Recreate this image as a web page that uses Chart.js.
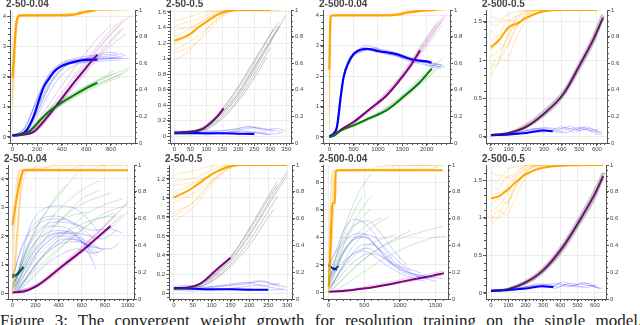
<!DOCTYPE html>
<html>
<head>
<meta charset="utf-8">
<script src="https://cdn.jsdelivr.net/npm/chart.js@4.4.1/dist/chart.umd.min.js"></script>
<style>
  body { margin: 0; background: #fff; width: 640px; height: 325px; overflow: hidden; position: relative; }
  canvas { position: absolute; }
  .ttl { position: absolute; font: bold 10px "Liberation Sans", Arial, sans-serif; color: #444; white-space: nowrap; }
  .cap { position: absolute; left: 0; top: 311px; font: 17px "Liberation Serif", serif; color: #222; white-space: nowrap; word-spacing: 6px; }
</style>
</head>
<body>
<div class="cap">Figure 3: The convergent weight growth for resolution training on the single model. The</div>
<script>
// ---- tick labels
const accTicks = [0, 0.2, 0.4, 0.6, 0.8, 1];
const p1XTicks = [0, 200, 400, 600, 800], p1YTicks = [0, 1, 2, 3, 4];
const p2XTicks = [0, 50, 100, 150, 200, 250, 300, 350], p2YTicks = [0, 0.2, 0.4, 0.6, 0.8, 1, 1.2, 1.4, 1.6];
const p3XTicks = [0, 500, 1000, 1500, 2000], p3YTicks = [0, 1, 2, 3, 4];
const p4XTicks = [0, 100, 200, 300, 400, 500, 600], p4YTicks = [0, 0.5, 1, 1.5];
const p5XTicks = [0, 200, 400, 600, 800, 1000], p5YTicks = [0, 1, 2, 3, 4];
const p6XTicks = [0, 50, 100, 150, 200, 250, 300], p6YTicks = [0, 0.2, 0.4, 0.6, 0.8, 1, 1.2];
const p7XTicks = [0, 500, 1000, 1500], p7YTicks = [0, 2, 4, 6, 8];
const p8XTicks = [0, 100, 200, 300, 400, 500, 600], p8YTicks = [0, 0.5, 1, 1.5];

// ---- panel 1: 2-50-0.04 (x = steps, left = weight norm, right = accuracy)
const p1OrangeMean = [0,0.49, 10,0.62, 20,0.78, 30,0.9, 45,0.95, 60,0.96, 200,0.96, 400,0.96, 500,0.965, 560,0.98, 620,0.99, 680,1.0];
const p1OrangeRuns = [
  [0,0.26, 20,0.6, 40,0.9, 60,0.96, 400,0.96, 550,0.97, 650,1.0, 950,1.0],
  [0,0.4, 25,0.8, 50,0.95, 300,0.96, 500,0.98, 600,1.0, 900,1.0],
  [0,0.5, 15,0.7, 35,0.93, 60,0.96, 450,0.96, 600,0.985, 700,1.0, 850,1.0],
  [0,0.3, 30,0.85, 60,0.955, 500,0.96, 650,0.99, 750,1.0, 930,1.0],
  [0,0.45, 20,0.75, 45,0.95, 70,0.965, 550,0.97, 620,1.0, 800,1.0]
];
const p1BlueMean = [0,0.05, 60,0.07, 116,0.23, 171,0.67, 210,1.15, 253,1.65, 300,1.95, 335,2.15, 380,2.3, 444,2.42, 520,2.5, 608,2.55, 690,2.56];
const p1BlueRuns = [
  [0,0.05, 100,0.15, 200,0.8, 300,1.7, 400,2.25, 500,2.5, 600,2.6, 700,2.65, 850,2.7],
  [0,0.05, 100,0.3, 200,1.2, 300,2.0, 400,2.4, 500,2.55, 600,2.6, 750,2.62, 900,2.6],
  [0,0.05, 120,0.2, 220,1.0, 320,1.8, 420,2.3, 550,2.55, 700,2.7, 900,2.75],
  [0,0.05, 90,0.25, 180,1.05, 280,1.95, 380,2.4, 500,2.6, 650,2.7, 800,2.8, 850,2.78],
  [0,0.05, 130,0.3, 230,1.2, 330,1.95, 430,2.35, 550,2.45, 700,2.5, 880,2.55],
  [0,0.05, 110,0.35, 210,1.4, 310,2.15, 410,2.45, 520,2.55, 680,2.6, 950,2.6],
  [0,0.05, 140,0.25, 240,1.0, 340,1.75, 440,2.2, 560,2.45, 700,2.55, 860,2.62],
  [0,0.05, 100,0.2, 200,0.95, 300,1.85, 400,2.35, 520,2.5, 640,2.55, 780,2.6, 920,2.7]
];
const p1GreenMean = [0,0.05, 60,0.07, 143,0.2, 225,0.56, 300,0.85, 390,1.11, 500,1.38, 608,1.63, 690,1.8];
const p1GreenRuns = [
  [0,0.05, 150,0.25, 300,0.9, 450,1.3, 600,1.65, 750,1.95, 830,2.1],
  [0,0.05, 150,0.2, 300,0.85, 450,1.25, 600,1.6, 750,1.85, 900,2.1],
  [0,0.05, 150,0.22, 300,0.8, 450,1.2, 600,1.55, 780,1.9, 940,2.2],
  [0,0.05, 150,0.28, 300,0.95, 450,1.35, 600,1.7, 720,1.95, 820,2.2],
  [0,0.05, 150,0.18, 300,0.78, 450,1.18, 600,1.5, 760,1.8, 880,2.0],
  [0,0.05, 150,0.25, 300,0.88, 450,1.32, 600,1.68, 800,2.05, 960,2.3]
];
const p1PurpleMean = [0,0.05, 80,0.07, 171,0.17, 280,0.65, 390,1.22, 480,1.7, 581,2.2, 650,2.55, 690,2.72];
const p1PurpleRuns = [
  [0,0.05, 150,0.15, 300,0.8, 450,1.65, 600,2.45, 750,3.2, 950,4.0],
  [0,0.05, 150,0.12, 300,0.7, 450,1.5, 600,2.3, 750,3.0, 880,3.55],
  [0,0.05, 150,0.2, 300,0.9, 450,1.75, 600,2.55, 750,3.3, 850,3.75],
  [0,0.05, 150,0.1, 300,0.65, 450,1.4, 600,2.15, 750,2.85, 920,3.4],
  [0,0.05, 120,0.15, 250,0.8, 400,1.7, 550,2.55, 700,3.3, 800,3.7],
  [0,0.05, 180,0.15, 330,0.85, 480,1.6, 630,2.35, 780,3.05, 900,3.6],
  [0,0.05, 150,0.18, 300,0.75, 450,1.55, 600,2.4, 750,3.15, 900,3.9]
];

// ---- panel 2: 2-50-0.5
const p2OrangeMean = [0,0.77, 25,0.79, 50,0.82, 75,0.87, 100,0.91, 125,0.95, 150,0.98, 175,0.995, 200,1.0, 300,1.0];
const p2OrangeRuns = [
  [0,0.62, 50,0.7, 100,0.85, 150,0.97, 200,1.0, 330,1.0],
  [0,0.92, 50,0.95, 100,0.99, 140,1.0, 300,1.0],
  [0,0.75, 40,0.8, 90,0.9, 140,0.98, 180,1.0, 350,1.0],
  [0,0.85, 60,0.88, 110,0.95, 160,1.0, 310,1.0],
  [0,0.68, 50,0.72, 100,0.82, 150,0.95, 200,1.0, 325,1.0],
  [0,0.88, 30,0.9, 80,0.94, 130,0.99, 170,1.0, 300,1.0],
  [0,0.8, 50,0.86, 100,0.93, 150,0.99, 300,1.0],
  [0,0.7, 60,0.78, 120,0.9, 170,0.99, 210,1.0, 280,1.0]
];
const p2GreyRuns = [
  [0,0.04, 50,0.05, 100,0.12, 150,0.3, 200,0.55, 250,0.88, 300,1.22, 350,1.56],
  [0,0.04, 50,0.06, 100,0.14, 150,0.34, 200,0.62, 250,0.95, 300,1.3, 325,1.46],
  [0,0.04, 50,0.05, 100,0.1, 150,0.25, 200,0.48, 250,0.8, 300,1.14],
  [0,0.04, 50,0.05, 100,0.12, 150,0.31, 200,0.57, 250,0.9, 300,1.24, 325,1.4],
  [0,0.04, 50,0.05, 100,0.09, 150,0.23, 200,0.45, 250,0.75, 290,1.02],
  [0,0.04, 50,0.06, 100,0.15, 150,0.36, 200,0.64, 250,0.98, 310,1.38],
  [0,0.04, 50,0.05, 100,0.11, 150,0.28, 200,0.52, 250,0.85, 300,1.2, 330,1.42]
];
const p2PurpleMean = [0,0.05, 30,0.055, 60,0.065, 90,0.1, 112,0.17, 135,0.26, 154,0.36];
const p2BlueMean = [0,0.04, 50,0.045, 100,0.04, 150,0.04, 200,0.035, 250,0.03];
const p2BlueRuns = [
  [0,0.06, 40,0.07, 80,0.05, 120,0.06, 160,0.08, 200,0.1, 240,0.12, 280,0.08, 320,0.1, 350,0.07],
  [0,0.03, 50,0.02, 100,0.04, 150,0.03, 200,0.06, 250,0.05, 300,0.03, 330,0.04],
  [0,0.07, 40,0.06, 90,0.08, 140,0.07, 190,0.09, 230,0.13, 270,0.1, 310,0.06],
  [0,0.05, 60,0.04, 110,0.03, 160,0.05, 210,0.07, 260,0.04, 300,0.02],
  [0,0.04, 50,0.05, 100,0.06, 150,0.05, 200,0.08, 250,0.11, 300,0.09, 340,0.05],
  [0,0.02, 50,0.03, 100,0.02, 150,0.04, 200,0.03, 250,0.06, 290,0.04]
];

// ---- panel 3: 2-500-0.04
const p3OrangeMean = [0,0.55, 15,0.85, 30,0.95, 60,0.96, 1200,0.96, 1400,0.965, 1600,0.98, 1800,0.99, 2000,0.997, 2200,1.0];
const p3OrangeRuns = [
  [0,0.1, 10,0.5, 25,0.9, 40,0.96, 1300,0.96, 1500,0.975, 1800,0.99, 2400,1.0],
  [0,0.3, 15,0.8, 30,0.955, 1200,0.96, 1450,0.98, 1700,1.0, 2350,1.0],
  [0,0.45, 12,0.85, 35,0.96, 1350,0.962, 1600,0.985, 2000,1.0, 2300,1.0],
  [0,0.2, 20,0.7, 50,0.96, 1400,0.965, 1650,0.99, 2100,1.0, 2400,1.0]
];
const p3BlueMean = [0,0.02, 80,0.1, 157,0.33, 225,1.2, 293,1.97, 396,2.46, 498,2.73, 600,2.85, 773,2.9, 900,2.87, 1000,2.83, 1200,2.78, 1400,2.72, 1600,2.6, 1800,2.52, 2000,2.49, 2100,2.44];
const p3BlueRuns = [
  [0,0.02, 150,0.3, 250,1.6, 400,2.5, 600,2.9, 800,3.0, 1000,2.9, 1200,2.85, 1400,2.75, 1600,2.65, 1800,2.55, 2000,2.5, 2200,2.4, 2350,2.35],
  [0,0.02, 170,0.35, 270,1.7, 420,2.45, 600,2.8, 750,2.85, 950,2.95, 1150,2.75, 1350,2.68, 1550,2.55, 1750,2.45, 1950,2.38, 2150,2.3, 2300,2.25],
  [0,0.02, 160,0.4, 260,1.8, 400,2.55, 550,2.78, 700,2.95, 900,2.82, 1100,2.8, 1300,2.76, 1500,2.62, 1700,2.58, 1900,2.47, 2100,2.42, 2300,2.38],
  [0,0.02, 150,0.3, 240,1.5, 380,2.4, 520,2.7, 680,2.82, 850,2.92, 1050,2.86, 1250,2.7, 1450,2.7, 1650,2.55, 1850,2.5, 2050,2.35, 2250,2.4],
  [600,2.75, 800,2.88, 1000,2.78, 1200,2.82, 1400,2.65, 1600,2.58, 1800,2.45, 2000,2.45, 2200,2.33, 2380,2.3],
  [500,2.65, 700,2.92, 900,2.88, 1100,2.75, 1300,2.72, 1500,2.6, 1700,2.52, 1900,2.52, 2100,2.36, 2300,2.32]
];
const p3GreenMean = [0,0, 100,0.05, 250,0.22, 498,0.38, 800,0.6, 1182,0.88, 1523,1.32, 1866,1.81, 2105,2.25];
const p3GreenRuns = [
  [0,0.02, 500,0.4, 1000,0.78, 1500,1.35, 2000,2.1, 2340,2.62],
  [0,0.02, 500,0.36, 1000,0.72, 1500,1.25, 2000,1.95, 2250,2.35],
  [0,0.02, 500,0.42, 1000,0.8, 1500,1.38, 2000,2.15, 2200,2.45],
  [0,0.02, 500,0.35, 1000,0.7, 1500,1.22, 2000,1.9, 2300,2.38],
  [0,0.02, 500,0.4, 1000,0.76, 1500,1.3, 1900,1.9, 2150,2.3]
];
const p3PurpleMean = [0,0, 100,0.05, 250,0.25, 498,0.49, 800,0.88, 1182,1.37, 1523,2.03, 1700,2.42, 1866,2.85];
const p3PurpleRuns = [
  [0,0.02, 500,0.5, 1000,1.15, 1500,2.0, 1900,2.95, 2350,3.98],
  [0,0.02, 500,0.47, 1000,1.1, 1500,1.95, 1900,2.85, 2300,3.8],
  [0,0.02, 500,0.52, 1000,1.2, 1500,2.1, 1900,3.05, 2250,3.85],
  [0,0.02, 500,0.45, 1000,1.05, 1500,1.9, 1900,2.78, 2320,3.7],
  [0,0.02, 500,0.5, 1000,1.18, 1500,2.05, 1900,3.0, 2200,3.7],
  [0,0.02, 500,0.48, 1000,1.12, 1500,1.98, 1900,2.9, 2380,3.95]
];

// ---- panel 4: 2-500-0.5
const p4OrangeMean = [0,0.72, 50,0.78, 100,0.87, 150,0.9, 200,0.94, 250,0.97, 300,0.99, 400,1.0, 600,1.0];
const p4OrangeRuns = [
  [0,0.51, 40,0.6, 80,0.7, 120,0.8, 160,0.9, 200,0.97, 260,1.0, 400,1.0],
  [0,0.95, 50,0.93, 100,0.97, 150,0.99, 200,1.0, 350,1.0],
  [0,0.6, 30,0.58, 70,0.72, 110,0.85, 150,0.88, 190,0.95, 240,0.99, 300,1.0],
  [0,0.85, 40,0.8, 80,0.9, 120,0.93, 170,0.97, 230,1.0, 600,1.0],
  [0,0.7, 50,0.75, 90,0.72, 130,0.85, 180,0.93, 230,0.98, 290,1.0],
  [0,0.9, 30,0.88, 70,0.93, 110,0.92, 160,0.98, 210,1.0, 500,1.0],
  [0,0.55, 40,0.65, 90,0.62, 130,0.75, 170,0.86, 220,0.95, 280,0.99, 330,1.0],
  [0,0.78, 60,0.82, 110,0.87, 150,0.95, 200,0.99, 250,1.0],
  [0,0.65, 50,0.7, 100,0.8, 140,0.92, 190,0.97, 260,1.0, 620,1.0]
];
const p4GreyRuns = [
  [0,0.02, 100,0.04, 200,0.12, 300,0.27, 411,0.53, 506,0.9, 580,1.22, 640,1.58],
  [0,0.02, 100,0.05, 200,0.16, 300,0.34, 411,0.6, 506,0.99, 580,1.32, 630,1.6],
  [0,0.02, 100,0.04, 200,0.13, 300,0.3, 411,0.56, 506,0.94, 580,1.26, 636,1.56]
];
const p4PurpleMean = [0,0.02, 100,0.05, 200,0.13, 300,0.3, 411,0.56, 506,0.95, 580,1.27, 634,1.55];
const p4BlueMean = [0,0.02, 100,0.03, 200,0.05, 300,0.08, 350,0.07];
const p4BlueRuns = [
  [0,0.02, 100,0.04, 200,0.08, 300,0.12, 400,0.1, 450,0.14, 500,0.08, 560,0.11, 620,0.05],
  [0,0.02, 100,0.03, 200,0.06, 280,0.1, 360,0.07, 420,0.12, 480,0.09, 540,0.13, 600,0.06],
  [0,0.03, 150,0.05, 250,0.11, 330,0.08, 400,0.13, 470,0.06, 530,0.1, 590,0.04, 630,0.03],
  [0,0.02, 120,0.04, 220,0.09, 320,0.11, 380,0.05, 440,0.1, 520,0.12, 580,0.07, 630,0.06],
  [0,0.02, 100,0.02, 200,0.05, 300,0.06, 360,0.09, 420,0.05, 500,0.11, 560,0.08, 610,0.1]
];

// ---- panel 5: 2-50-0.04 (second run)
const p5OrangeMean = [0,0.55, 20,0.66, 48,0.81, 70,0.9, 92,0.957, 110,0.96, 300,0.96, 600,0.96, 1000,0.96];
const p5OrangeRuns = [
  [0,0.05, 30,0.3, 60,0.7, 100,0.96, 1000,0.96],
  [0,0.2, 20,0.5, 50,0.9, 80,0.96, 250,0.97, 350,1.0, 1000,1.0],
  [0,0.04, 40,0.5, 70,0.85, 110,0.96, 500,0.965, 600,1.0, 900,1.0],
  [0,0.35, 30,0.75, 70,0.96, 400,0.97, 450,1.0, 800,1.0],
  [0,0.1, 50,0.6, 90,0.93, 120,0.96, 700,0.97, 800,1.0, 950,1.0],
  [0,0.45, 25,0.8, 60,0.96, 180,0.975, 220,1.0, 1000,1.0],
  [0,0.03, 20,0.2, 60,0.6, 100,0.9, 130,0.96, 300,0.98, 400,1.0]
];
const p5BlueMean = [0,0.64, 25,0.62, 48,0.67, 70,0.78, 95,0.92];
const p5BlueRuns = [
  [20,0.1, 80,1.2, 150,2.3, 250,2.9, 400,3.05, 550,2.95, 650,2.6, 750,2.1],
  [10,0.2, 60,0.8, 150,1.8, 250,2.3, 400,2.5, 550,2.4, 700,2.2, 850,2.25, 950,2.1],
  [30,0.1, 100,0.6, 200,1.3, 300,1.8, 450,2.1, 600,1.9, 750,1.6],
  [10,0.3, 80,1.0, 180,1.7, 300,2.1, 420,2.2, 550,2.0, 700,1.4, 730,1.3],
  [40,0.05, 120,0.5, 220,1.1, 350,1.6, 500,1.9, 650,1.7, 800,1.5],
  [20,0.4, 100,1.3, 200,2.0, 320,2.35, 450,2.3, 600,1.8, 680,1.2],
  [50,0.1, 150,0.7, 250,1.2, 400,1.7, 550,1.8, 700,1.6, 850,1.55, 920,1.75],
  [0,0.5, 70,1.5, 150,2.2, 250,2.6, 380,2.7, 500,2.5, 620,2.1],
  [30,0.2, 110,0.9, 200,1.5, 330,2.0, 480,2.15, 620,2.05, 780,1.9, 900,2.2],
  [60,0.1, 160,0.45, 280,0.95, 420,1.35, 560,1.55, 700,1.4, 780,1.5],
  [10,0.6, 50,1.2, 120,1.9, 220,2.4, 350,2.6, 480,2.55, 600,2.3, 700,1.9],
  [20,0.05, 90,0.4, 180,0.9, 300,1.5, 450,1.9, 600,1.8, 700,1.5, 750,1.4],
  [40,0.3, 130,1.1, 230,1.7, 370,2.1, 520,2.1, 640,1.7, 720,0.85],
  [0,0.1, 60,0.5, 150,1.1, 280,1.7, 420,2.0, 560,1.9, 680,1.6]
];
const p5GreenMean = [0,0.55, 30,0.62, 60,0.75, 95,0.9];
const p5GreenRuns = [
  [0,0.2, 100,1.2, 200,2.2, 300,2.9, 400,3.5, 500,3.9, 560,4.2],
  [20,0.1, 150,1.0, 300,2.0, 450,2.7, 600,3.3, 750,3.6],
  [0,0.3, 100,1.0, 250,1.9, 400,2.5, 550,3.0, 700,3.3, 850,3.5],
  [30,0.05, 180,0.8, 330,1.6, 480,2.2, 650,2.8, 800,3.1, 950,3.3],
  [10,0.4, 120,1.6, 250,2.6, 380,3.3, 480,3.8],
  [50,0.1, 200,0.7, 350,1.3, 500,1.9, 650,2.4, 800,2.8, 1000,3.1],
  [0,0.15, 80,0.9, 200,1.8, 350,2.4, 500,2.7, 650,2.85],
  [20,0.2, 140,1.3, 280,2.3, 420,3.0, 560,3.5, 680,3.8, 760,3.95],
  [60,0.2, 220,0.9, 380,1.5, 540,2.0, 700,2.5, 880,2.8],
  [10,0.05, 100,0.6, 220,1.3, 380,1.9, 540,2.3, 720,2.6, 900,2.7]
];
const p5PurpleMean = [0,0.02, 100,0.05, 200,0.22, 323,0.58, 450,1.0, 611,1.51, 750,2.0, 850,2.35];
const p5PurpleRuns = [
  [0,0.02, 200,0.25, 400,0.85, 600,1.55, 800,2.35, 1000,3.2],
  [0,0.02, 200,0.2, 400,0.78, 600,1.45, 800,2.2, 950,2.75],
  [0,0.02, 200,0.3, 400,0.92, 600,1.62, 800,2.4, 900,2.8],
  [0,0.02, 200,0.18, 400,0.72, 600,1.4, 800,2.1, 1000,2.85],
  [0,0.02, 200,0.26, 400,0.88, 600,1.58, 750,2.15, 880,2.65]
];

// ---- panel 6: 2-50-0.5 (second run)
const p6OrangeMean = [0,0.757, 25,0.79, 50,0.83, 75,0.88, 100,0.93, 125,0.965, 150,0.99, 175,1.0, 300,1.0];
const p6OrangeRuns = [
  [0,0.58, 50,0.68, 100,0.85, 150,0.98, 200,1.0, 300,1.0],
  [0,0.93, 40,0.95, 80,0.98, 120,1.0, 275,1.0],
  [0,0.65, 50,0.72, 100,0.88, 140,0.98, 180,1.0, 275,1.0],
  [0,0.85, 50,0.87, 100,0.93, 150,1.0, 250,1.0],
  [0,0.72, 40,0.77, 90,0.86, 140,0.96, 175,1.0, 300,1.0],
  [0,0.8, 30,0.83, 80,0.9, 130,0.98, 160,1.0, 280,1.0],
  [0,0.62, 60,0.74, 110,0.9, 160,0.99, 250,1.0],
  [0,0.88, 50,0.9, 100,0.96, 140,1.0, 300,1.0]
];
const p6GreyRuns = [
  [0,0.04, 50,0.06, 100,0.16, 150,0.35, 200,0.62, 250,0.95, 300,1.28],
  [0,0.04, 50,0.07, 100,0.18, 150,0.38, 200,0.68, 250,1.02, 275,1.18],
  [0,0.04, 50,0.05, 100,0.13, 150,0.3, 200,0.55, 250,0.86, 275,1.02],
  [0,0.04, 50,0.06, 100,0.15, 150,0.33, 200,0.6, 250,0.92, 300,1.24],
  [0,0.04, 50,0.07, 100,0.17, 150,0.37, 200,0.66, 250,0.99, 275,1.14],
  [0,0.04, 50,0.05, 100,0.12, 150,0.28, 200,0.5, 250,0.8, 265,0.88]
];
const p6PurpleMean = [0,0.05, 40,0.06, 70,0.1, 95,0.18, 120,0.27, 150,0.37];
const p6BlueMean = [0,0.05, 50,0.045, 100,0.04, 150,0.04, 200,0.035, 250,0.035];
const p6BlueRuns = [
  [0,0.06, 50,0.05, 100,0.07, 150,0.08, 200,0.1, 230,0.13, 260,0.1, 300,0.06],
  [0,0.03, 60,0.02, 120,0.04, 180,0.05, 240,0.03, 290,0.04],
  [0,0.07, 40,0.08, 90,0.06, 140,0.09, 190,0.11, 240,0.08, 280,0.1],
  [0,0.05, 50,0.04, 110,0.03, 170,0.06, 220,0.08, 270,0.05, 300,0.03],
  [0,0.04, 70,0.05, 130,0.07, 180,0.1, 230,0.12, 280,0.07]
];

// ---- panel 7: 2-500-0.04 (second run)
const p7OrangeMean = [0,0.09, 20,0.3, 40,0.6, 50,0.715, 90,0.715, 100,0.95, 120,0.96, 1600,0.96];
const p7OrangeRuns = [
  [0,0.05, 30,0.4, 60,0.8, 100,0.96, 700,0.96, 800,1.0, 1650,1.0],
  [0,0.1, 20,0.6, 50,0.95, 1000,0.96, 1100,1.0, 1600,1.0],
  [0,0.15, 40,0.5, 80,0.9, 120,0.96, 1200,0.965, 1300,1.0, 1500,1.0],
  [0,0.03, 25,0.2, 70,0.7, 110,0.96, 1400,0.97, 1600,1.0],
  [0,0.3, 30,0.75, 60,0.96, 850,0.965, 950,1.0, 1550,1.0],
  [0,0.06, 50,0.45, 90,0.85, 130,0.96, 600,0.97, 700,0.99, 1450,1.0]
];
const p7BlueMean = [0,2.0, 30,1.85, 70,1.72, 117,1.65];
const p7BlueRuns = [
  [0,1.5, 100,2.5, 250,4.2, 400,5.0, 550,5.2, 700,4.5, 850,3.5, 1000,2.5, 1100,2.0],
  [0,0.5, 100,1.5, 200,2.8, 350,3.8, 500,4.2, 650,4.0, 800,3.2, 950,2.4, 1100,1.8, 1300,1.4],
  [0,2.0, 80,2.8, 200,3.6, 350,4.2, 480,4.3, 600,3.8, 750,2.9, 900,2.1],
  [20,0.2, 120,1.2, 250,2.3, 400,3.0, 550,3.2, 700,2.8, 850,2.2, 1000,1.6, 1200,1.2, 1400,1.0],
  [0,1.0, 100,1.8, 230,3.1, 380,3.9, 520,4.0, 650,3.4, 800,2.5, 950,1.9, 1100,1.5, 1250,1.3, 1450,1.1],
  [10,0.3, 120,0.9, 250,1.7, 400,2.4, 550,2.8, 700,2.7, 850,2.2, 1000,1.7, 1200,1.3, 1600,1.0],
  [0,1.8, 100,3.0, 220,4.6, 350,5.3, 480,5.1, 620,4.4, 760,3.3, 900,2.4],
  [30,0.5, 150,1.4, 300,2.6, 450,3.4, 600,3.5, 750,3.0, 900,2.3, 1050,1.7, 1250,1.2, 1500,0.8],
  [0,0.8, 80,1.5, 200,2.2, 350,2.8, 500,3.0, 650,2.6, 800,2.0, 1000,1.4, 1200,1.0, 1350,0.8],
  [20,1.2, 120,2.2, 260,3.4, 420,4.1, 560,3.9, 700,3.1, 850,2.3, 1000,1.9, 1150,1.6]
];
const p7GreenMean = [60,1.65, 94,1.72, 140,1.9];
const p7GreenRuns = [
  [0,0.5, 100,2.5, 200,4.3, 300,5.8, 400,7.0, 500,7.9, 590,8.6],
  [0,0.3, 120,2.0, 250,3.9, 380,5.3, 500,6.3, 600,7.0],
  [20,0.2, 150,1.5, 300,3.0, 450,4.0, 600,4.7, 750,5.2, 850,5.5],
  [0,1.0, 100,2.2, 220,3.6, 350,4.7, 480,5.5, 580,6.0],
  [30,0.1, 200,1.0, 400,2.0, 600,2.8, 800,3.5, 1000,4.1, 1150,4.5],
  [0,0.6, 150,2.2, 300,3.6, 450,4.5, 600,5.1, 750,5.4],
  [50,0.2, 250,1.2, 450,2.2, 650,3.0, 850,3.6, 1050,4.0, 1250,4.3, 1450,4.6, 1600,4.8],
  [10,0.4, 180,1.6, 350,2.6, 550,3.4, 750,3.9, 950,4.2],
  [0,0.8, 130,3.0, 260,4.8, 390,6.2, 480,7.0],
  [100,0.1, 300,0.8, 500,1.5, 700,2.2, 900,2.8, 1100,3.3, 1300,3.7, 1500,4.0, 1650,4.1]
];
const p7PurpleMean = [0,0.05, 200,0.1, 400,0.22, 600,0.36, 820,0.56, 1050,0.8, 1288,1.04, 1450,1.2, 1620,1.4];
const p7PurpleRuns = [
  [0,0.05, 400,0.3, 800,0.7, 1200,1.1, 1620,1.55],
  [0,0.05, 400,0.18, 800,0.48, 1200,0.85, 1600,1.25]
];

// ---- panel 8: 2-500-0.5 (second run)
const p8OrangeMean = [0,0.75, 50,0.77, 100,0.82, 150,0.88, 200,0.93, 250,0.96, 300,0.98, 400,0.995, 650,1.0];
const p8OrangeRuns = [
  [0,0.55, 40,0.6, 80,0.65, 120,0.78, 160,0.88, 200,0.95, 250,0.99, 320,1.0],
  [0,0.95, 50,0.92, 100,0.97, 150,0.99, 200,1.0, 400,1.0],
  [0,0.62, 30,0.6, 70,0.7, 110,0.74, 150,0.85, 190,0.93, 240,0.98, 300,1.0],
  [0,0.85, 40,0.82, 80,0.9, 130,0.93, 180,0.98, 230,1.0, 600,1.0],
  [0,0.7, 50,0.75, 90,0.72, 130,0.82, 170,0.9, 220,0.97, 280,1.0],
  [0,0.9, 30,0.87, 70,0.92, 110,0.9, 160,0.96, 210,1.0, 500,1.0],
  [0,0.58, 40,0.66, 90,0.63, 130,0.72, 170,0.84, 220,0.93, 280,0.99, 340,1.0],
  [0,0.78, 60,0.8, 110,0.86, 150,0.93, 200,0.98, 260,1.0],
  [0,0.66, 50,0.7, 100,0.8, 140,0.9, 190,0.96, 260,1.0, 650,1.0]
];
const p8GreyRuns = [
  [0,0.03, 100,0.05, 200,0.13, 300,0.29, 417,0.6, 513,0.95, 600,1.3, 655,1.6],
  [0,0.03, 100,0.06, 200,0.16, 300,0.33, 417,0.66, 513,1.02, 600,1.38, 645,1.6],
  [0,0.03, 100,0.05, 200,0.12, 300,0.27, 417,0.57, 513,0.92, 600,1.26, 650,1.55]
];
const p8PurpleMean = [0,0.03, 100,0.05, 200,0.14, 300,0.3, 417,0.62, 513,0.97, 600,1.32, 648,1.55];
const p8BlueMean = [0,0.03, 100,0.04, 200,0.06, 300,0.09, 360,0.08];
const p8BlueRuns = [
  [0,0.03, 100,0.05, 200,0.08, 280,0.12, 350,0.09, 420,0.15, 480,0.1, 550,0.13, 620,0.07],
  [0,0.02, 120,0.04, 220,0.07, 300,0.1, 380,0.13, 440,0.08, 510,0.12, 580,0.09, 640,0.06],
  [0,0.03, 150,0.06, 250,0.1, 330,0.07, 400,0.12, 470,0.09, 530,0.14, 600,0.08],
  [0,0.02, 100,0.03, 200,0.06, 300,0.09, 370,0.06, 430,0.11, 500,0.08, 570,0.1, 630,0.05],
  [0,0.02, 130,0.05, 230,0.09, 320,0.12, 390,0.08, 460,0.13, 540,0.07, 610,0.11]
];

// colours
const ORANGE = 'rgba(255,165,0,1)', ORANGE_T = 'rgba(255,165,0,0.28)';
const BLUE = 'rgba(0,0,255,1)', BLUE_T = 'rgba(0,0,255,0.2)';
const GREEN = 'rgba(0,128,0,1)', GREEN_T = 'rgba(0,128,0,0.2)';
const PURPLE = 'rgba(128,0,128,1)', PURPLE_T = 'rgba(128,0,128,0.2)';
const GREY_T = 'rgba(60,60,60,0.28)';

function pts(a) {
  const out = [];
  for (let i = 0; i < a.length; i += 2) out.push({ x: a[i], y: a[i + 1] });
  return out;
}
function ln(a, color, width, axis) {
  return { data: pts(a), borderColor: color, borderWidth: width, pointRadius: 0,
           cubicInterpolationMode: 'monotone', yAxisID: axis || 'y', fill: false };
}
function runs(list, color, axis) { return list.map(a => ln(a, color, 1, axis)); }

// draws minor ticks between the major ones, Bokeh style
const minorTicks = {
  id: 'minorTicks',
  afterDraw(chart) {
    const ctx = chart.ctx;
    ctx.save();
    ctx.strokeStyle = '#555';
    ctx.lineWidth = 1;
    ['x', 'y', 'y2'].forEach(id => {
      const s = chart.scales[id];
      if (!s || s.ticks.length < 2) return;
      const step = (s.ticks[1].value - s.ticks[0].value) / 5;
      for (let v = Math.ceil(s.min / step) * step; v <= s.max; v += step) {
        const p = Math.round(s.getPixelForValue(v)) + 0.5;
        ctx.beginPath();
        if (id === 'x') { ctx.moveTo(p, s.top); ctx.lineTo(p, s.top + 2); }
        else if (id === 'y') { ctx.moveTo(s.right, p); ctx.lineTo(s.right - 2, p); }
        else { ctx.moveTo(s.left, p); ctx.lineTo(s.left + 2, p); }
        ctx.stroke();
      }
    });
    ctx.restore();
  }
};

const panels = [
  { title: '2-50-0.04', L: 10, R: 135, T: 10, B: 143, top: 0, x: [-20, 995], y: [-0.2, 4.2], xt: p1XTicks, yt: p1YTicks,
    sets: [...runs(p1OrangeRuns, ORANGE_T, 'y2'), ...runs(p1BlueRuns, BLUE_T), ...runs(p1GreenRuns, GREEN_T), ...runs(p1PurpleRuns, PURPLE_T),
           ln(p1OrangeMean, ORANGE, 2.2, 'y2'), ln(p1GreenMean, GREEN, 2), ln(p1PurpleMean, PURPLE, 2), ln(p1BlueMean, BLUE, 2.2)] },
  { title: '2-50-0.5', L: 170, R: 291, T: 10, B: 143, top: 0, x: [-14, 365], y: [-0.085, 1.625], xt: p2XTicks, yt: p2YTicks,
    sets: [...runs(p2OrangeRuns, ORANGE_T, 'y2'), ...runs(p2GreyRuns, GREY_T), ...runs(p2BlueRuns, BLUE_T),
           ln(p2OrangeMean, ORANGE, 2, 'y2'), ln(p2BlueMean, BLUE, 2), ln(p2PurpleMean, PURPLE, 2)] },
  { title: '2-500-0.04', L: 323, R: 450, T: 10, B: 143, top: 0, x: [-130, 2480], y: [-0.2, 4.18], xt: p3XTicks, yt: p3YTicks,
    sets: [...runs(p3OrangeRuns, ORANGE_T, 'y2'), ...runs(p3BlueRuns, BLUE_T), ...runs(p3GreenRuns, GREEN_T), ...runs(p3PurpleRuns, PURPLE_T),
           ln(p3OrangeMean, ORANGE, 2.2, 'y2'), ln(p3GreenMean, GREEN, 2), ln(p3PurpleMean, PURPLE, 2), ln(p3BlueMean, BLUE, 2.2)] },
  { title: '2-500-0.5', L: 486, R: 607, T: 10, B: 143, top: 0, x: [-28, 657], y: [-0.082, 1.653], xt: p4XTicks, yt: p4YTicks,
    sets: [...runs(p4OrangeRuns, ORANGE_T, 'y2'), ...runs(p4BlueRuns, BLUE_T), ...p4GreyRuns.map(a => ln(a, GREY_T, 2)),
           ln(p4OrangeMean, ORANGE, 2, 'y2'), ln(p4BlueMean, BLUE, 2), ln(p4PurpleMean, PURPLE, 2)] },
  { title: '2-50-0.04', L: 8, R: 134, T: 165, B: 299, top: 155, x: [-38, 1052], y: [-0.21, 4.49], xt: p5XTicks, yt: p5YTicks,
    sets: [...runs(p5OrangeRuns, ORANGE_T, 'y2'), ...runs(p5GreenRuns, GREEN_T), ...runs(p5BlueRuns, BLUE_T), ...runs(p5PurpleRuns, PURPLE_T),
           ln(p5OrangeMean, ORANGE, 2, 'y2'), ln(p5PurpleMean, PURPLE, 2), ln(p5GreenMean, GREEN, 2), ln(p5BlueMean, BLUE, 2)] },
  { title: '2-50-0.5', L: 169, R: 292, T: 165, B: 299, top: 155, x: [-13, 313], y: [-0.063, 1.347], xt: p6XTicks, yt: p6YTicks,
    sets: [...runs(p6OrangeRuns, ORANGE_T, 'y2'), ...runs(p6GreyRuns, GREY_T), ...runs(p6BlueRuns, BLUE_T),
           ln(p6OrangeMean, ORANGE, 2, 'y2'), ln(p6BlueMean, BLUE, 2), ln(p6PurpleMean, PURPLE, 2)] },
  { title: '2-500-0.04', L: 323, R: 448, T: 165, B: 299, top: 155, x: [-79, 1677], y: [-0.48, 9.25], xt: p7XTicks, yt: p7YTicks,
    sets: [...runs(p7OrangeRuns, ORANGE_T, 'y2'), ...runs(p7GreenRuns, GREEN_T), ...runs(p7BlueRuns, BLUE_T), ...runs(p7PurpleRuns, PURPLE_T),
           ln(p7OrangeMean, ORANGE, 2, 'y2'), ln(p7PurpleMean, PURPLE, 2), ln(p7BlueMean, BLUE, 2), ln(p7GreenMean, GREEN, 2)] },
  { title: '2-500-0.5', L: 486, R: 606, T: 165, B: 299, top: 155, x: [-29, 664], y: [-0.08, 1.7], xt: p8XTicks, yt: p8YTicks,
    sets: [...runs(p8OrangeRuns, ORANGE_T, 'y2'), ...runs(p8BlueRuns, BLUE_T), ...p8GreyRuns.map(a => ln(a, GREY_T, 2)),
           ln(p8OrangeMean, ORANGE, 2, 'y2'), ln(p8BlueMean, BLUE, 2), ln(p8PurpleMean, PURPLE, 2)] }
];

const LW = 16, RW = 22, XH = 11;
const tickFont = { size: 6, family: '"Liberation Sans", Arial, sans-serif' };
const fmt = v => Math.round(v * 1000) / 1000;
const setTicks = list => s => { s.ticks = list.map(v => ({ value: v })); };

panels.forEach(p => {
  const cv = document.createElement('canvas');
  const w = p.R - p.L + LW + RW, h = p.B - p.top + XH;
  cv.width = w; cv.height = h;
  cv.style.left = (p.L - LW) + 'px';
  cv.style.top = p.top + 'px';
  document.body.appendChild(cv);

  const t = document.createElement('div');
  t.className = 'ttl';
  t.textContent = p.title;
  t.style.left = (p.L - 4) + 'px';
  t.style.top = (p.top - 2) + 'px';
  document.body.appendChild(t);

  const tickOpts = { font: tickFont, color: '#444', padding: 1, autoSkip: false, maxRotation: 0, callback: fmt };
  const gridOpts = { color: '#ececec', tickColor: '#555', tickLength: 3 };

  new Chart(cv, {
    type: 'line',
    data: { datasets: p.sets },
    options: {
      responsive: false, animation: false, devicePixelRatio: 1,
      layout: { padding: { top: p.T - p.top, left: 0, right: 0, bottom: 0 } },
      plugins: { legend: { display: false }, tooltip: { enabled: false } },
      scales: {
        x: { type: 'linear', position: 'bottom', min: p.x[0], max: p.x[1],
             ticks: { ...tickOpts, padding: 0 }, grid: gridOpts, border: { color: '#555' },
             afterBuildTicks: setTicks(p.xt), afterFit: s => { s.height = XH; } },
        y: { type: 'linear', position: 'left', min: p.y[0], max: p.y[1],
             ticks: tickOpts, grid: gridOpts, border: { color: '#555' },
             afterBuildTicks: setTicks(p.yt), afterFit: s => { s.width = LW; } },
        y2: { type: 'linear', position: 'right', min: 0, max: 1,
              ticks: tickOpts, grid: { drawOnChartArea: false, tickColor: '#555', tickLength: 3 }, border: { color: '#555' },
              afterBuildTicks: setTicks(accTicks), afterFit: s => { s.width = RW; } }
      }
    },
    plugins: [minorTicks]
  });
});
</script>
</body>
</html>
